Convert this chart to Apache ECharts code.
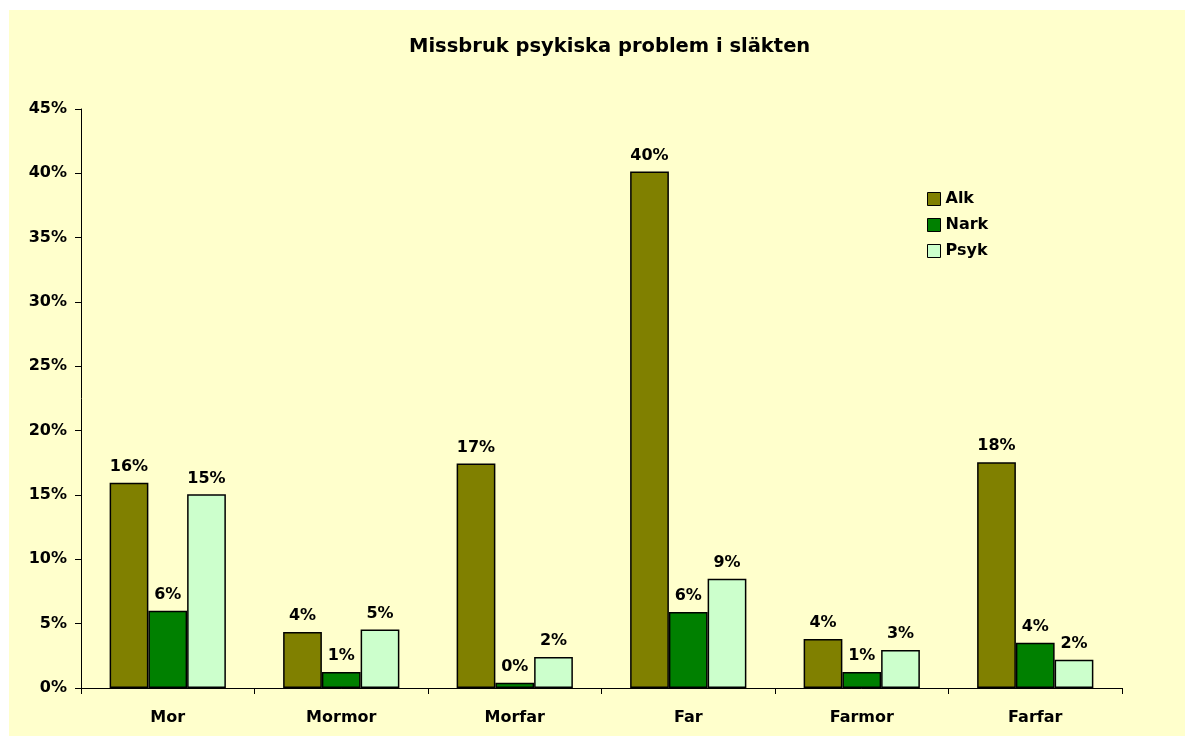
<!DOCTYPE html>
<html>
<head>
<meta charset="utf-8">
<script src="https://cdn.jsdelivr.net/npm/echarts@6/dist/echarts.min.js"></script>
<style>
html, body { margin: 0; padding: 0; background: #ffffff; }
#main { width: 1193px; height: 742px; }
</style>
</head>
<body>
<div id="main"></div>
<script>
var categories = ['Mor', 'Mormor', 'Morfar', 'Far', 'Farmor', 'Farfar'];
var alk = [15.95, 4.35, 17.45, 40.15, 3.8, 17.55];
var nark = [6.0, 1.25, 0.4, 5.9, 1.25, 3.52];
var psyk = [15.05, 4.55, 2.4, 8.5, 2.95, 2.2];

var font = '"DejaVu Sans", sans-serif';

function labelCfg() {
	return {
		show: true,
		position: 'top',
		distance: 8,
		color: '#000',
		fontFamily: font,
		fontWeight: 'bold',
		fontSize: 16,
		formatter: function (p) { return Math.round(p.value) + '%'; }
	};
}

function bar(name, data, color) {
	return {
		name: name,
		type: 'bar',
		data: data,
		barGap: '0%',
		barCategoryGap: '33%',
		itemStyle: { color: color, borderColor: '#000', borderWidth: 1.5 },
		label: labelCfg()
	};
}

var myChart = echarts.init(document.getElementById('main'));
var option = {
	animation: false,
	graphic: [{
		type: 'rect',
		left: 9, top: 10,
		shape: { width: 1176, height: 726 },
		style: { fill: '#ffffcc' },
		z: -10
	}],
	title: {
		text: 'Missbruk psykiska problem i släkten',
		left: 404,
		top: 32,
		textStyle: { fontFamily: font, fontWeight: 'bold', fontSize: 19.5, color: '#000' }
	},
	legend: {
		orient: 'vertical',
		left: 922,
		top: 186,
		itemWidth: 13,
		itemHeight: 13,
		itemGap: 10,
		icon: 'rect',
		textStyle: { fontFamily: font, fontWeight: 'bold', fontSize: 16, color: '#000' },
		itemStyle: { borderColor: '#000', borderWidth: 1 },
		data: ['Alk', 'Nark', 'Psyk']
	},
	grid: { left: 81, right: 71, top: 109, bottom: 54 },
	xAxis: {
		type: 'category',
		data: categories,
		axisLine: { lineStyle: { color: '#000', width: 1 } },
		axisTick: { show: true, alignWithLabel: false, length: 6, lineStyle: { color: '#000' } },
		axisLabel: { margin: 22, color: '#000', fontFamily: font, fontWeight: 'bold', fontSize: 16 }
	},
	yAxis: {
		type: 'value',
		min: 0, max: 45, interval: 5,
		axisLine: { show: true, lineStyle: { color: '#000', width: 1 } },
		axisTick: { show: true, length: 6, lineStyle: { color: '#000' } },
		splitLine: { show: false },
		axisLabel: { margin: 14, color: '#000', fontFamily: font, fontWeight: 'bold', fontSize: 16, formatter: '{value}%' }
	},
	series: [
		bar('Alk', alk, '#808000'),
		bar('Nark', nark, '#008000'),
		bar('Psyk', psyk, '#ccffcc')
	]
};
myChart.setOption(option);
</script>
</body>
</html>
